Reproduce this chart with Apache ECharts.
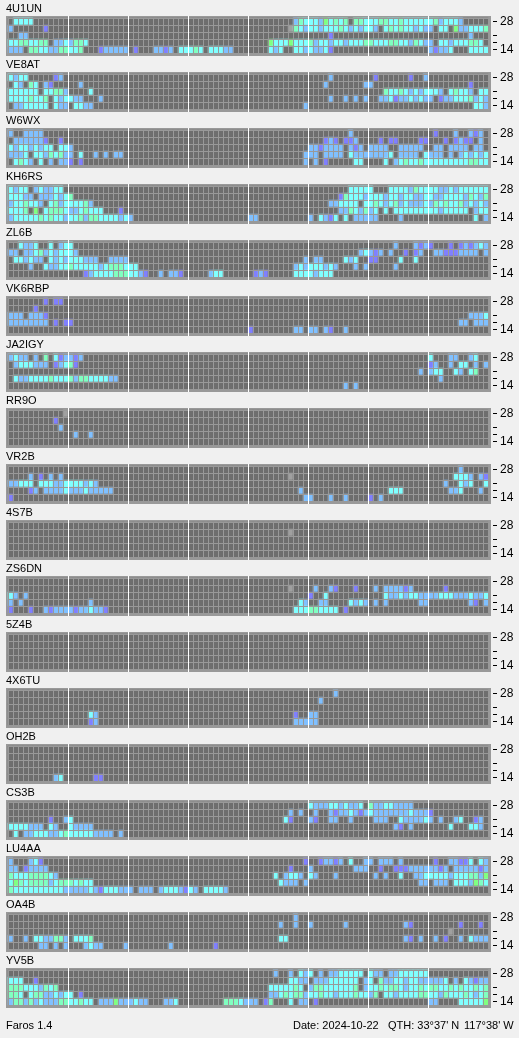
<!DOCTYPE html>
<html>
<head>
<meta charset="utf-8">
<script src="https://cdn.jsdelivr.net/npm/echarts@6/dist/echarts.min.js"></script>
<style>html,body{margin:0;padding:0;background:#f0f0f0}#c{width:519px;height:1038px}</style>
</head>
<body>
<div id="c"></div>
<script>
// Levels: . none, p weak, b, c, m, g strong, x grey. Tokens are "startColumn:levels", five rows top (28) to bottom (14).
const bands = ['28', '24', '21', '18', '14'];
const labelledBands = ['28', '14'];
const tickedBands = ['28', '21', '18', '14'];
const slots = Array.from({length: 96}, (_, i) => i);
const levelColors = {'.': '#6e6e6e', p: '#8080ff', b: '#80c0ff', c: '#80ffff', m: '#80ffc0', g: '#80ff80', x: '#a0a0a0'};
const levelOrder = ['.', 'x', 'p', 'b', 'c', 'm', 'g'];

const st4U1UN = [
  '1:cccc 57:bmcccbgcmcm.mmcccmmccmccccccmbcccb',
  '0:b 7:p 56:xmcbccbcccmcbcbccb.cmcmccbcbb.cc.gbbcccm',
  '2:bb 64:p 92:b',
  '0:ccmmccmm.bbcbmmc 52:gcccgcccmbccbccbcccmmcccmmccbmcbb.ccbcccmmc',
  '0:bbb.mmccbbmmccm...pbbbbb.p...bbpb.cccmc.cccbb 52:cbc..ccbcbbcp 84:bpbbc...cccc'
];
const stVE8AT = [
  '0:cbcc 9:pb 64:b 73:p 80:p 83:b',
  '1:cb.mc.bp 14:b 63:b 71:bb 92:p',
  '0:cccccc.ccmmb 16:c 75:mccmcbcbcccb.cmccb.cc',
  '0:ccccmccm.cbccbb 18:b 64:b 67:b 69:b 71:b 74:bbcpbbcbcbb.pbbcccmbcb',
  '1:bbccccc.cbb.ccbb 59:b 93:ccb'
];
const stW6WX = [
  '0:b 3:bbbb 68:b 85:p 89:b 92:bpb',
  '1:bbbbbbp 10:p 63:pbp 67:ppb 74:p 76:pp 82:pp 87:p 89:pbpp 94:b',
  '0:cbccbcbcc.ccb 60:bbpbbbb.bpb.bbbb..bbbbb..bb.bbbb.bb.',
  '0:bbbc.ccbmcmbb.c 17:b 19:b 21:bb 59:bbb.bbbb.cbbbbbbbc.bbbb.cbbb.b.bcbcbc',
  '1:cmcb.c.b.bbp.p 59:b 61:b 63:p 69:cc 75:c 77:bcmccmcccccccccmmcc'
];
const stKH6RS = [
  '0:cbcc.bcbbcc 68:ccccc...ccccbmccccbbcbcccccc',
  '0:cccbb.bbbcbcm 66:pmcccbcccbccbccbbccbbccccbmcbm',
  '0:bccmccb.cmbccccmb 64:bbcccc.ccmcbcmbcbbbcbmcmccmbcbcb',
  '0:cccm.g.cmmmcbbcmccc 22:p 66:bbmcbmbc.c.cccccccccbccccc.bcc',
  '0:bcccccmcmccbccmbmmccccbcb 48:bb 60:b.cbpc.c 69:bbbbb 78:b 93:c.b'
];
const stZL6B = [
  '2:cbbc 8:c 10:bcc 77:b 81:bpbp 88:p 90:pbpbcb',
  '0:bb.bbcmbcbcccb 70:bcbpb.b 79:p 81:pb 85:bbpppbbbb.b',
  '1:ccbcbb.cbcbcccbbb 20:bbbb 59:b 61:bb 67:cbc 72:pp 78:c 81:c',
  '4:b 7:cbbccmcccccbcmmmccc 57:bcbcccbcb 69:b 71:b 77:b',
  '15:pbccccmmmccbp 30:b 32:bbp 40:bcc 49:pbp 57:ccccbccc'
];
const stVK6RBP = [
  '7:p 9:pp',
  '5:p',
  '0:bbb.bbbp 92:bbbc',
  '0:bbbbbbbb.p.pp 90:bb.bbb',
  '48:p 57:bb 60:bb 63:bp 67:b'
];
const stJA2IGY = [
  '0:bcbb.b.m.cpbbpb 84:c 88:bb 92:bc',
  '1:bcccbbb.pbcmp 84:pb 88:b.cc.b.b',
  '82:b.bcc..cb.cm',
  '1:cbbccccmcccmbmmccccbb 86:b',
  '67:b 69:b'
];
const stRR9O = ['11:x', '9:p', '10:b', '13:b 16:b', ''];
const stVR2B = [
  '90:b',
  '4:b.p.b.b 56:x 89:cccb.bp',
  '0:bbccc.cccbbccccbcb 87:b 90:cbc 95:c',
  '4:pb.bbbbcbbbcbbbbb 58:b 76:ccc 88:bbc 94:b',
  '0:p 59:bb 64:b 67:b 72:p 74:b'
];
const st4S7B = ['', '56:x', '', '', ''];
const stZS6DN = [
  '',
  '56:x 61:b 64:bp 69:p 73:b 75:bbbbpb 87:p',
  '0:cb.b 60:p 63:c 75:cbbcbccbbbbccc 89:bbbcbbc',
  '0:b.b 16:b 58:cb 62:bb 68:cbcb 73:b 75:b 82:bb 92:bp 95:b',
  '0:p 4:p 7:bpbbbbpbbcbbp 57:cccmmcccc 67:p'
];
const st5Z4B = ['', '', '', '', ''];
const st4X6TU = ['65:b', '62:b', '', '16:cb 57:p 60:bb', '16:pb 57:bbbbb'];
const stOH2B = ['', '', '', '', '9:bc 17:pp'];
const stCS3B = [
  '60:cbbbccbcbbc.mbbccbbbb',
  '56:b 58:b 61:b 64:bpbbcbpbcbbbbbbbcbbbp',
  '8:p 11:bc 55:cp 60:bp 64:bb 68:b 73:bbb 78:cbbbbcb 86:b 89:bc 93:pb',
  '0:ccccbbb.cb 12:cbbbb 77:bp 80:b 88:c 92:ccb',
  '1:c.bbcccbbcmcccccbbbb.b'
];
const stLU4AA = [
  '0:b 4:bcp 59:p 62:pbbpb 68:c 71:bb 74:bbb 78:b 85:p 88:bbppc 94:cb',
  '0:bb.pbbbb 56:p 60:b 69:bbb 74:p 77:pppbbbbbbpb.bbbbbpb',
  '0:mcccmmmmcb 53:c.bccb.cb 65:b 73:b 75:b 78:c 81:bbcccccbcccmmbg',
  '0:cgmcmmmmbcmmmcmcc 54:cbbb.b 82:bb.bbb.cccbgmc',
  '0:mccccccccccbbbbbcbpcccbbb.bbb.bcccbpcb.ccccb'
];
const stOA4B = [
  '57:b',
  '54:b 57:b 60:b 67:b 79:bp 90:p 94:p',
  '88:x',
  '0:b 3:b 5:ccbbmmb 13:cccm 54:cc 79:bp 82:b 85:b 87:p 90:b 92:cbbb',
  '6:bb 9:b 11:b 15:bcbb 23:b 32:b 41:p'
];
const stYV5B = [
  '53:b 56:b 58:cbc 62:b 64:bbccccc.cbb.bbcccccc',
  '0:ccc 5:p 56:ccbb.bbbcccccc.bc.mbbccbccbbbbbc.b.cbpbb',
  '0:mmmcccbmcm 52:cccccmc.bmmccccccm.bccmcmmcbccmcmmccmcmccmcm',
  '0:mmc.cmmbbcbcc.p 52:bbcmcmmbccmccbcccmccbm.ccbccccmmccbmcccmcbcm',
  '0:bmmbmbcbbbmmccmcc.bbbgbbbcbb...bbc 43:mmmcbbb 51:pm 56:c 58:bb 61:p 84:bb 90:cccccg'
];

const stationNames = ['4U1UN','VE8AT','W6WX','KH6RS','ZL6B','VK6RBP','JA2IGY','RR9O','VR2B','4S7B','ZS6DN','5Z4B','4X6TU','OH2B','CS3B','LU4AA','OA4B','YV5B'];
const stationRows = [st4U1UN,stVE8AT,stW6WX,stKH6RS,stZL6B,stVK6RBP,stJA2IGY,stRR9O,stVR2B,st4S7B,stZS6DN,st5Z4B,st4X6TU,stOH2B,stCS3B,stLU4AA,stOA4B,stYV5B];
const footerParts = [
  ['Faros 1.4', 6],
  ['Date: 2024-10-22', 293],
  ["QTH: 33\u00b037' N", 388],
  ["117\u00b038' W", 464]
];

const FONT = '"Liberation Sans", Arial, sans-serif';
const TEXT = {fontFamily: FONT, fontSize: 11, fontWeight: 'normal', color: '#000'};
const PITCH = 56;

function cells(rows) {
  const out = [];
  rows.forEach((row, r) => {
    const line = slots.map(() => '.');
    row.split(' ').filter(Boolean).forEach(tok => {
      const [start, codes] = tok.split(':');
      [...codes].forEach((ch, k) => { line[+start + k] = ch; });
    });
    line.forEach((ch, c) => out.push({value: [c, r, levelOrder.indexOf(ch)], itemStyle: {color: levelColors[ch]}}));
  });
  return out;
}

const option = {
  animation: false,
  backgroundColor: '#f0f0f0',
  graphic: stationNames.map((_, i) => ({
    type: 'rect', silent: true, z: 0,
    shape: {x: 6, y: 16 + PITCH * i, width: 485, height: 40},
    style: {fill: '#999999'}
  })),
  title: stationNames.map((n, i) => ({
    text: n, left: 6, top: 3 + PITCH * i, padding: 0, textStyle: TEXT
  })).concat(footerParts.map(([t, x]) => ({
    text: t, left: x, top: 1020, padding: 0, textStyle: TEXT
  }))),
  grid: [], xAxis: [], yAxis: [], series: []
};

stationNames.forEach((n, i) => {
  const g = i * 2;
  option.grid.push({left: 8, top: 18 + PITCH * i, width: 480, height: 35});
  option.grid.push({left: 8, top: 16 + PITCH * i, width: 480, height: 40});
  option.xAxis.push({
    type: 'category', gridIndex: g, data: slots, z: 3,
    axisLine: {show: false}, axisTick: {show: false}, axisLabel: {show: false},
    splitLine: {show: true, interval: 0, lineStyle: {color: '#999999', width: 1}}
  });
  option.yAxis.push({
    type: 'category', gridIndex: g, data: bands, inverse: true, position: 'right', offset: 5, z: 3,
    axisLine: {show: false},
    axisTick: {show: true, length: 4, alignWithLabel: true, interval: idx => tickedBands.includes(bands[idx]), lineStyle: {color: '#000'}},
    axisLabel: {show: true, margin: 7, interval: idx => labelledBands.includes(bands[idx]), fontFamily: FONT, fontSize: 12, color: '#000'},
    splitLine: {show: true, interval: 0, lineStyle: {color: '#999999', width: 1}}
  });
  option.xAxis.push({
    type: 'value', gridIndex: g + 1, min: 0, max: 24, interval: 3, z: 4,
    axisLine: {show: false}, axisTick: {show: false}, axisLabel: {show: false},
    splitLine: {show: true, showMinLine: false, showMaxLine: false, lineStyle: {color: '#ffffff', width: 1}}
  });
  option.yAxis.push({type: 'value', gridIndex: g + 1, min: 0, max: 1, show: false});
  option.series.push({
    type: 'heatmap', xAxisIndex: g, yAxisIndex: g, z: 2, progressive: 0, silent: true,
    data: cells(stationRows[i])
  });
});

const chart = echarts.init(document.getElementById('c'), null, {renderer: 'canvas'});
chart.setOption(option);
</script>
</body>
</html>
